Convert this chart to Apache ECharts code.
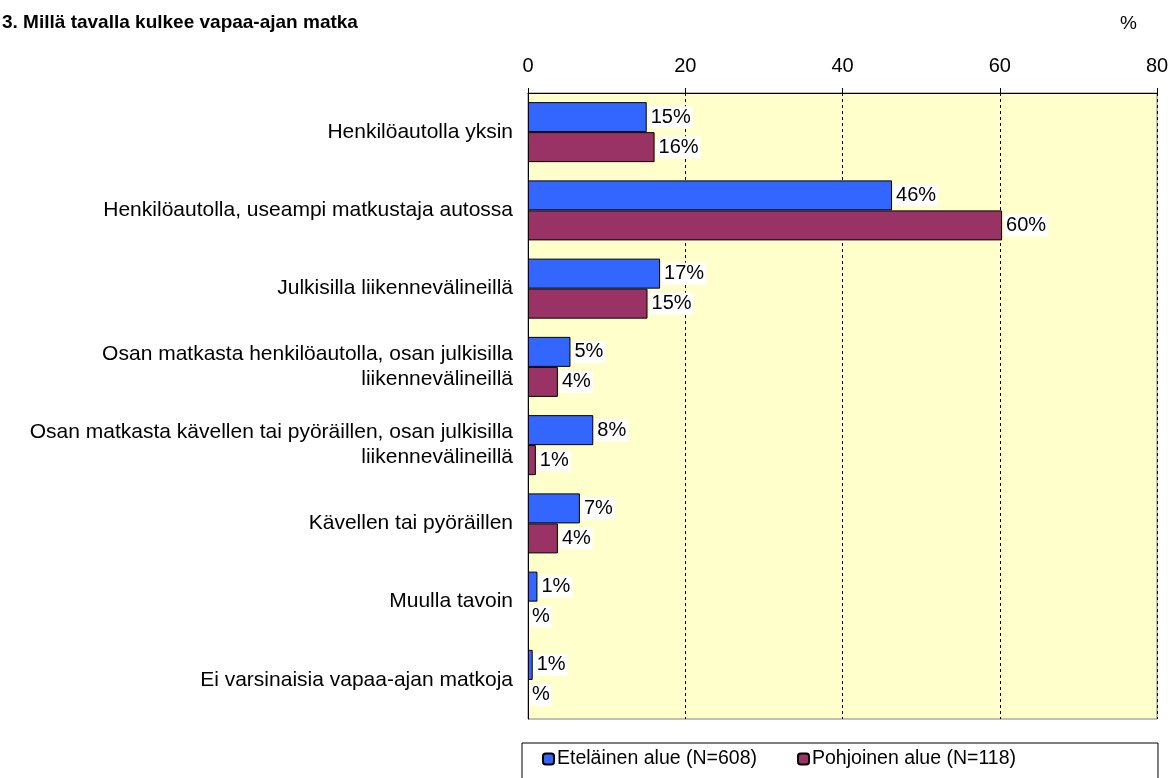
<!DOCTYPE html>
<html>
<head>
<meta charset="utf-8">
<script src="https://cdn.jsdelivr.net/npm/echarts@6/dist/echarts.min.js"></script>
<style>
	html, body { margin: 0; padding: 0; background: #fff; }
	#chart { width: 1173px; height: 778px; }
</style>
</head>
<body>
<div id="chart"></div>
<script>
	// kategoriat ylhäältä alas
	var categories = [
		'Henkilöautolla yksin',
		'Henkilöautolla, useampi matkustaja autossa',
		'Julkisilla liikennevälineillä',
		'Osan matkasta henkilöautolla, osan julkisilla\nliikennevälineillä',
		'Osan matkasta kävellen tai pyöräillen, osan julkisilla\nliikennevälineillä',
		'Kävellen tai pyöräillen',
		'Muulla tavoin',
		'Ei varsinaisia vapaa-ajan matkoja'
	]
	var etelainen = [15.1, 46.3, 16.8, 5.4, 8.3, 6.6, 1.2, 0.6]
	var pohjoinen = [16.1, 60.3, 15.2, 3.8, 1.0, 3.8, 0, 0]
	var seriesNames = ['Eteläinen alue (N=608)', 'Pohjoinen alue (N=118)']
	var xTicks = [0, 20, 40, 60, 80]

	var font = 'Liberation Sans, Arial, sans-serif'

	// nollapalkeille ei reunaviivaa
	function barData(arr) {
		return arr.map(function (v) {
			return v > 0 ? v : { value: v, itemStyle: { borderWidth: 0 } }
		})
	}

	function barLabel() {
		return {
			show: true,
			position: 'right',
			distance: 2,
			color: '#000',
			fontFamily: font,
			fontSize: 20,
			backgroundColor: '#fff',
			padding: [2, 2, 0, 2],
			formatter: function (p) {
				return p.value > 0 ? Math.round(p.value) + '%' : '%'
			}
		}
	}

	var chart = echarts.init(document.getElementById('chart'))
	chart.setOption({
		animation: false,
		textStyle: { fontFamily: font },
		title: [{
			text: '3. Millä tavalla kulkee vapaa-ajan matka',
			left: -3,
			top: 8,
			textStyle: { fontSize: 19, fontWeight: 'bold', color: '#000', fontFamily: font }
		}, {
			text: '%',
			left: 1115,
			top: 9,
			textStyle: { fontSize: 19, fontWeight: 'normal', color: '#000', fontFamily: font }
		}],
		grid: {
			left: 528,
			right: 16,
			top: 93,
			bottom: 59,
			show: true,
			backgroundColor: '#FFFFCC',
			borderColor: '#808080',
			borderWidth: 1
		},
		legend: {
			left: 522,
			top: 743,
			itemWidth: 11,
			itemHeight: 11,
			itemGap: 40,
			padding: [6, 142, 12, 20],
			borderColor: '#000',
			borderWidth: 1,
			backgroundColor: '#fff',
			textStyle: { fontSize: 19.5, color: '#000', fontFamily: font, padding: [0, 0, 0, -2] },
			data: seriesNames
		},
		xAxis: {
			type: 'value',
			position: 'top',
			min: xTicks[0],
			max: xTicks[xTicks.length - 1],
			interval: 20,
			axisLine: { show: true, lineStyle: { color: '#000' } },
			axisTick: { show: true, length: 5, lineStyle: { color: '#000' } },
			axisLabel: { fontSize: 20, color: '#000', margin: 17, fontFamily: font },
			splitLine: { show: true, lineStyle: { color: '#000', type: [3, 3] } }
		},
		yAxis: {
			type: 'category',
			inverse: true,
			data: categories,
			axisLine: { show: true, lineStyle: { color: '#000' } },
			axisTick: { show: false },
			axisLabel: { fontSize: 21, color: '#000', margin: 15, lineHeight: 25, fontFamily: font },
		},
		series: [{
			name: seriesNames[0],
			type: 'bar',
			data: barData(etelainen),
			barWidth: 30,
			barGap: '0%',
			itemStyle: { color: '#3366FF', borderColor: '#000', borderWidth: 1 },
			label: barLabel()
		}, {
			name: seriesNames[1],
			type: 'bar',
			data: barData(pohjoinen),
			barWidth: 30,
			barGap: '0%',
			itemStyle: { color: '#993366', borderColor: '#000', borderWidth: 1 },
			label: barLabel()
		}]
	})
</script>
</body>
</html>
